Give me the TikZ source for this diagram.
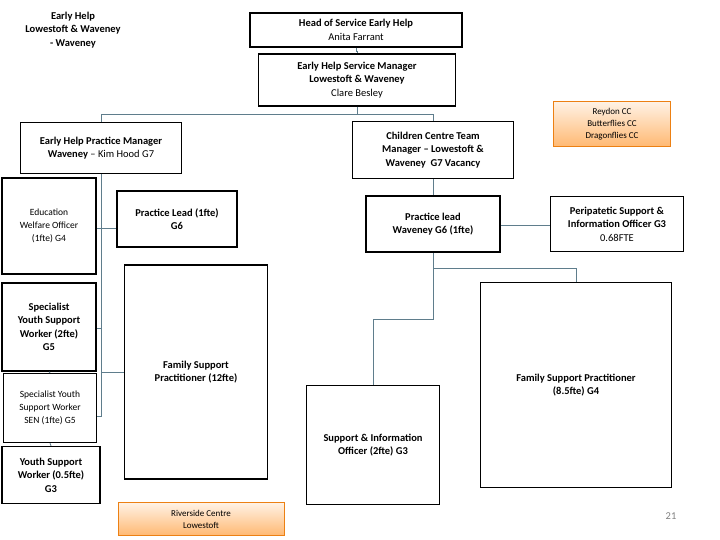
\documentclass[tikz,border=0pt]{standalone}
\usepackage{fontspec}
\setmainfont{Carlito}
\usetikzlibrary{positioning}
\definecolor{linkgray}{HTML}{5F7D8C}

\begin{document}
\begin{tikzpicture}[x=1pt,y=-1pt,font=\fontsize{10.5}{13.5}\selectfont]
\tikzstyle{every node}+=[inner sep=2pt,align=center]
\tikzstyle{box}=[draw=black,line width=1.5pt]
\tikzstyle{cc}=[draw=orange!70!brown,line width=0.6pt,top color=orange!10,bottom color=orange!55,font=\fontsize{9}{12}\selectfont]
\tikzstyle{link}=[draw=linkgray,line width=0.9pt]
\useasboundingbox (0,0) rectangle (720,540);
\node at (73,30) {\textbf{Early Help}\\\textbf{Lowestoft \& Waveney}\\\textbf{- Waveney}};
\node[box,minimum width=212pt,minimum height=34pt] (head) at (356,30) {\textbf{Head of Service Early Help}\\Anita Farrant};
\node[box,minimum width=197pt,minimum height=52pt] (mgr) at (357,80) {\textbf{Early Help Service Manager}\\\textbf{Lowestoft \& Waveney}\\Clare Besley};
\node[cc,minimum width=117pt,minimum height=45pt] (reydon) at (612,124) {Reydon CC\\Butterflies CC\\Dragonflies CC};
\node[box,minimum width=161pt,minimum height=51pt] (ehpm) at (101,148) {\textbf{Early Help Practice Manager}\\\textbf{Waveney} -- Kim Hood G7};
\node[box,minimum width=161pt,minimum height=57pt] (cctm) at (433,150) {\textbf{Children Centre Team}\\\textbf{Manager -- Lowestoft \&}\\\textbf{Waveney\ \ G7 Vacancy}};
\node[box,minimum width=94pt,minimum height=96pt,font=\fontsize{9.5}{13}\selectfont] (ewo) at (49,226) {Education\\Welfare Officer\\(1fte) G4};
\node[box,minimum width=120pt,minimum height=56pt] (plead) at (177,219) {\textbf{Practice Lead (1fte)}\\\textbf{G6}};
\node[box,minimum width=134pt,minimum height=56pt] (plw) at (433,224) {\textbf{Practice lead}\\\textbf{Waveney G6 (1fte)}};
\node[box,minimum width=133pt,minimum height=55pt] (peri) at (617,224) {\textbf{Peripatetic Support \&}\\\textbf{Information Officer G3}\\0.68FTE};
\node[box,minimum width=94pt,minimum height=88pt] (sysw) at (49,327) {\textbf{Specialist}\\\textbf{Youth Support}\\\textbf{Worker (2fte)}\\\textbf{G5}};
\node[box,minimum width=93pt,minimum height=69pt,font=\fontsize{9.5}{13}\selectfont] (sen) at (50,408) {Specialist Youth\\Support Worker\\SEN (1fte) G5};
\node[box,minimum width=98pt,minimum height=57pt] (ysw) at (51,475) {\textbf{Youth Support}\\\textbf{Worker (0.5fte)}\\\textbf{G3}};
\node[box,minimum width=143pt,minimum height=214pt] (fsp) at (196,372) {\textbf{Family Support}\\\textbf{Practitioner (12fte)}};
\node[box,minimum width=133pt,minimum height=119pt] (sio) at (373,445) {\textbf{Support \& Information}\\\textbf{Officer (2fte) G3}};
\node[box,minimum width=191pt,minimum height=205pt] (fspw) at (576,385) {\textbf{Family Support Practitioner}\\\textbf{(8.5fte) G4}};
\node[cc,minimum width=166pt,minimum height=33pt] (riv) at (201,519) {Riverside Centre\\Lowestoft};
\node[text=gray] (page) at (671,516) {21};
% connectors
\draw[link] (head.south) -- ++(0,4) -| (mgr.north);
\draw[link] (mgr.south) -- ++(0,8) coordinate (top);
\draw[link] (top) -| (ehpm.north);
\draw[link] (top) -| (cctm.north);
\draw[link] (ehpm.south) -- ++(0,242) coordinate (lb) -- (sen.east |- lb);
\draw[link] (ewo.east |- 0,228) -- (plead.west |- 0,228);
\draw[link] (sysw.east |- 0,328) -- (ehpm.south |- 0,328);
\draw[link] (ehpm.south |- 0,372) -- (fsp.west |- 0,372);
\draw[link] (sysw.south) -- (sen.north);
\draw[link] (sen.south) -- (ysw.north);
\draw[link] (cctm.south) -- (plw.north);
\draw[link] (plw.east |- 0,225) -- (peri.west |- 0,225);
\draw[link] (plw.south) -- ++(0,16) coordinate (mid) -| (fspw.north);
\draw[link] (mid) -- (plw.south |- 0,319) -| (sio.north);
\end{tikzpicture}
\end{document}
